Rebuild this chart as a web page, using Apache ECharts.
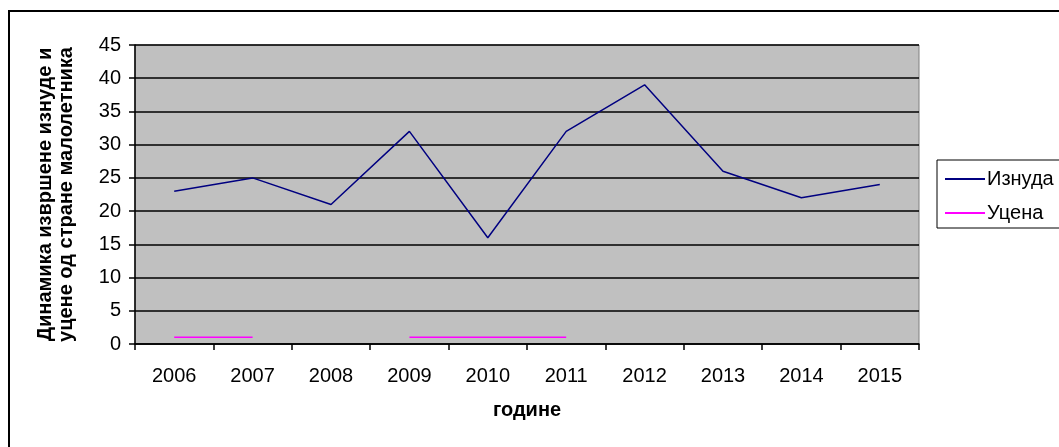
<!DOCTYPE html>
<html>
<head>
<meta charset="utf-8">
<script src="https://cdn.jsdelivr.net/npm/echarts@6/dist/echarts.min.js"></script>
<style>
  html, body { margin: 0; padding: 0; background: #fff; }
  #main { width: 1059px; height: 447px; }
</style>
</head>
<body>
<div id="main"></div>
<script>
// године
var years = ['2006', '2007', '2008', '2009', '2010', '2011', '2012', '2013', '2014', '2015'];
// Изнуда
var iznuda = [23, 25, 21, 32, 16, 32, 39, 26, 22, 24];
// Уцена (нема вредности за 2008 и 2012-2015)
var ucena = [1, 1, null, 1, 1, 1, null, null, null, null];

var font = 'Liberation Sans, Arial, sans-serif';

var myChart = echarts.init(document.getElementById('main'));

var option = {
  backgroundColor: '#ffffff',
  animation: false,
  textStyle: { fontFamily: font },
  graphic: [{
    type: 'rect',
    shape: { x: 9, y: 11, width: 1200, height: 600 },
    style: { fill: 'none', stroke: '#000', lineWidth: 2 },
    silent: true
  }],
  grid: {
    left: 135,
    top: 45,
    width: 784,
    height: 299,
    show: true,
    backgroundColor: '#C0C0C0',
    borderColor: '#808080',
    borderWidth: 1
  },
  legend: {
    left: 937,
    top: 160,
    orient: 'vertical',
    padding: [9, 40, 5, 8],
    itemGap: 14,
    itemWidth: 40,
    itemHeight: 2,
    icon: 'rect',
    borderColor: '#000',
    borderWidth: 1,
    textStyle: { fontFamily: font, fontSize: 20, lineHeight: 20, color: '#000', padding: [0, 0, 0, -3] },
    data: ['Изнуда', 'Уцена']
  },
  xAxis: {
    type: 'category',
    data: years,
    boundaryGap: true,
    name: 'године',
    nameLocation: 'middle',
    nameGap: 56,
    nameTextStyle: { fontFamily: font, fontSize: 20, fontWeight: 'bold', color: '#000' },
    axisLine: { lineStyle: { color: '#000', width: 1.5 } },
    axisTick: { show: true, length: 6, interval: 0, lineStyle: { color: '#000', width: 1.5 } },
    axisLabel: { fontFamily: font, fontSize: 20, color: '#000', margin: 22, interval: 0 },
    splitLine: { show: false }
  },
  yAxis: {
    type: 'value',
    min: 0,
    max: 45,
    interval: 5,
    name: 'Динамика извршене изнуде и\nуцене од стране малолетника',
    nameLocation: 'middle',
    nameRotate: 90,
    nameGap: 58,
    nameTextStyle: { fontFamily: font, fontSize: 20, fontWeight: 'bold', color: '#000', lineHeight: 21 },
    axisLine: { show: true, lineStyle: { color: '#000', width: 1.5 } },
    axisTick: { show: true, length: 6, lineStyle: { color: '#000', width: 1.5 } },
    axisLabel: { fontFamily: font, fontSize: 20, color: '#000', margin: 14 },
    splitLine: { show: true, lineStyle: { color: '#000', width: 1.5 } }
  },
  series: [
    {
      name: 'Изнуда',
      type: 'line',
      data: iznuda,
      symbol: 'none',
      color: '#000080',
      lineStyle: { color: '#000080', width: 1.5 }
    },
    {
      name: 'Уцена',
      type: 'line',
      data: ucena,
      symbol: 'none',
      connectNulls: false,
      color: '#FF00FF',
      lineStyle: { color: '#FF00FF', width: 1.5 }
    }
  ]
};

myChart.setOption(option);
</script>
</body>
</html>
